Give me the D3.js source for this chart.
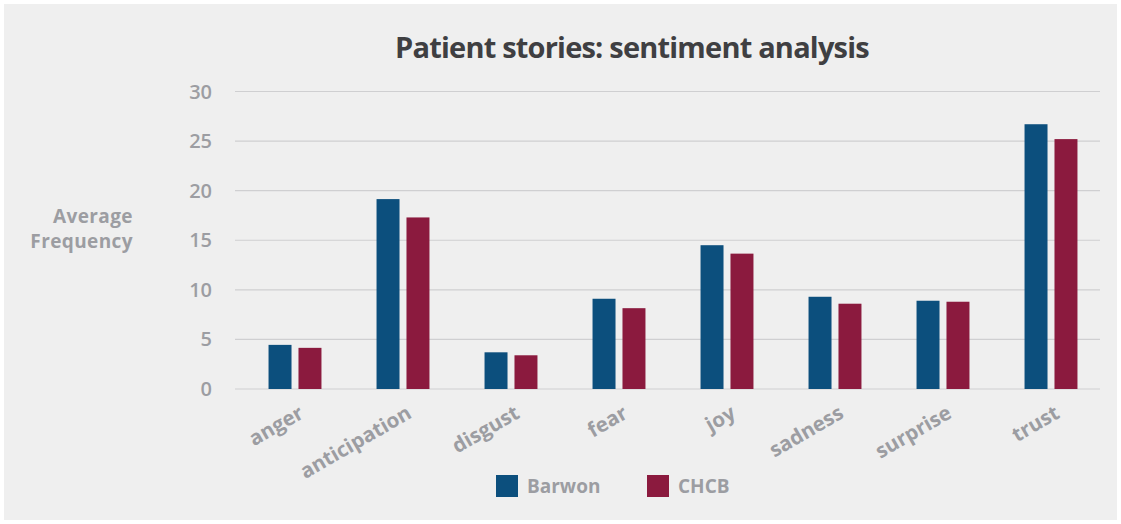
<!DOCTYPE html>
<html>
<head>
<meta charset="utf-8">
<script src="https://cdn.jsdelivr.net/npm/d3@7"></script>
<style>
  body { margin: 0; background: #fff; }
  text { font-family: "Open Sans", "DejaVu Sans", sans-serif; }
</style>
</head>
<body>
<div id="chart-area"></div>
<script>
// data
var categories = ["anger", "anticipation", "disgust", "fear", "joy", "sadness", "surprise", "trust"];
var series = ["Barwon", "CHCB"];
var barwon = [4.45, 19.15, 3.7, 9.1, 14.5, 9.3, 8.9, 26.7];
var chcb   = [4.15, 17.3, 3.4, 8.15, 13.65, 8.6, 8.8, 25.2];
var yTicks = [0, 5, 10, 15, 20, 25, 30];

var colors = { Barwon: "#0c4f7d", CHCB: "#8b1a3e" };
var grey = "#9c9da2";

var width = 1121, height = 524;

var svg = d3.select("#chart-area")
  .append("svg")
    .attr("width", width)
    .attr("height", height);

// panel background
svg.append("rect")
  .attr("x", 4).attr("y", 4)
  .attr("width", 1113).attr("height", 516)
  .attr("fill", "#efefef");

var data = categories.map(function(c, i) {
  return { cat: c, values: [ { key: "Barwon", v: barwon[i] }, { key: "CHCB", v: chcb[i] } ] };
});

var y = d3.scaleLinear()
  .domain([0, 30])
  .range([389, 91.5]);

var x0 = d3.scaleBand()
  .domain(categories)
  .range([241, 1105])
  .paddingInner(0.51)
  .paddingOuter(0.255);

var x1 = d3.scaleBand()
  .domain(series)
  .range([0, x0.bandwidth()])
  .paddingInner(0.233);

// gridlines
svg.append("g")
  .selectAll("line")
  .data(yTicks)
  .enter().append("line")
    .attr("x1", 235).attr("x2", 1100)
    .attr("y1", function(d) { return y(d); })
    .attr("y2", function(d) { return y(d); })
    .attr("stroke", "#cfcfd1")
    .attr("stroke-width", 1.2);

// y tick labels
svg.append("g")
  .selectAll("text")
  .data(yTicks)
  .enter().append("text")
    .attr("x", 212)
    .attr("y", function(d) { return y(d) + 7; })
    .attr("text-anchor", "end")
    .style("font-size", "20px")
    .style("font-weight", "600")
    .style("fill", grey)
    .text(function(d) { return d; });

// y axis title
var yt = svg.append("text")
  .attr("text-anchor", "end")
  .style("font-size", "19px")
  .style("font-weight", "bold")
  .style("letter-spacing", "0.4px")
  .style("fill", grey);
yt.append("tspan").attr("x", 133).attr("y", 223).text("Average");
yt.append("tspan").attr("x", 133).attr("y", 248).text("Frequency");

// bars
var groups = svg.selectAll("g.cat")
  .data(data)
  .enter().append("g")
    .attr("class", "cat")
    .attr("transform", function(d) { return "translate(" + x0(d.cat) + ",0)"; });

groups.selectAll("rect")
  .data(function(d) { return d.values; })
  .enter().append("rect")
    .attr("x", function(d) { return x1(d.key); })
    .attr("y", function(d) { return y(d.v); })
    .attr("width", x1.bandwidth())
    .attr("height", function(d) { return y(0) - y(d.v); })
    .attr("fill", function(d) { return colors[d.key]; });

// x labels, rotated
svg.append("g")
  .selectAll("text")
  .data(categories)
  .enter().append("text")
    .attr("text-anchor", "end")
    .attr("transform", function(d) {
      var cx = x0(d) + x0.bandwidth() / 2 + 10;
      return "translate(" + cx + ",417)rotate(-30)";
    })
    .style("font-size", "20.5px")
    .style("font-weight", "bold")
    .style("fill", grey)
    .text(function(d) { return d; });

// title
svg.append("text")
  .attr("x", 632)
  .attr("y", 58)
  .attr("text-anchor", "middle")
  .style("font-size", "29px")
  .style("font-weight", "bold")
  .style("letter-spacing", "-0.8px")
  .style("fill", "#3f3f42")
  .text("Patient stories: sentiment analysis");

// legend
var legendX = [496, 647];
var legend = svg.selectAll("g.legend")
  .data(series)
  .enter().append("g")
    .attr("class", "legend")
    .attr("transform", function(d, i) { return "translate(" + legendX[i] + ",475)"; });

legend.append("rect")
  .attr("width", 22).attr("height", 22)
  .attr("fill", function(d) { return colors[d]; });

legend.append("text")
  .attr("x", 31).attr("y", 18)
  .style("font-size", "19px")
  .style("font-weight", "bold")
  .style("fill", grey)
  .text(function(d) { return d; });
</script>
</body>
</html>
